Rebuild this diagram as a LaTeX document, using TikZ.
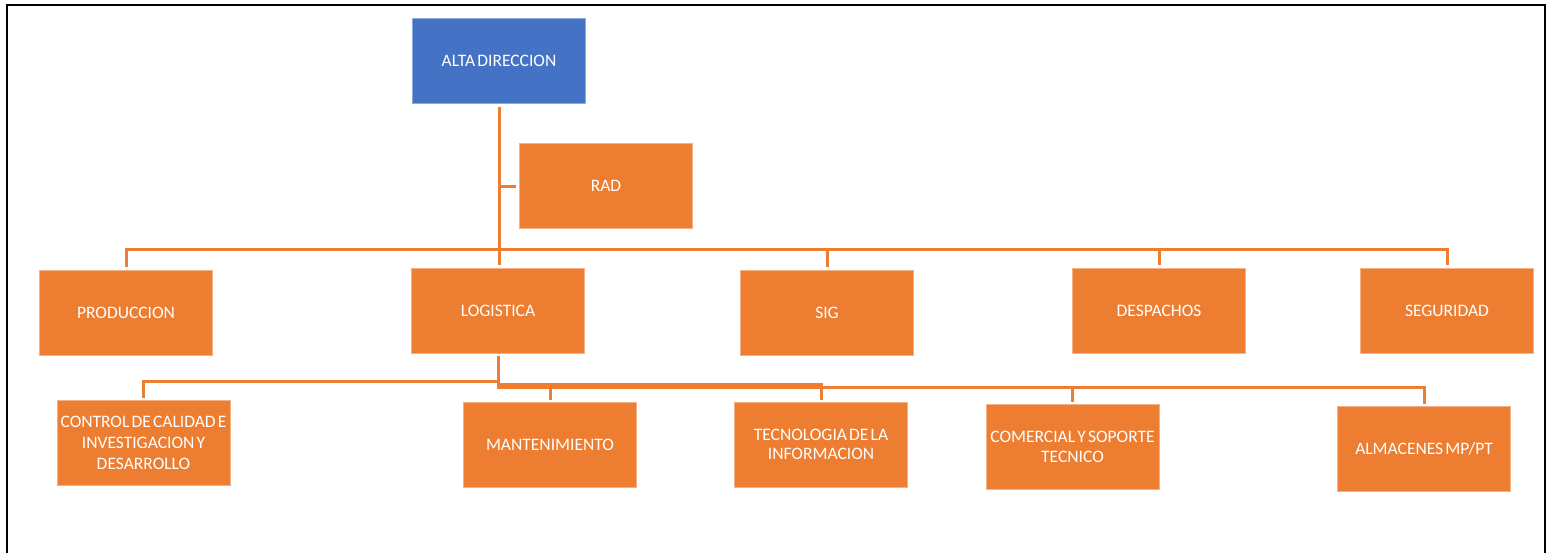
\documentclass[tikz,border=0pt]{standalone}
\usepackage{fontspec}
\setmainfont{Carlito}[WordSpace=0.55]
\definecolor{boxorange}{HTML}{ED7D31}
\definecolor{boxblue}{HTML}{4472C4}
\tikzset{
  unit/.style={fill=boxorange, draw=boxorange!60!white, line width=0.6pt,
    minimum width=173pt, minimum height=85pt, inner sep=1pt,
    text=white, align=center, font=\fontsize{17.5}{21}\selectfont},
  conn/.style={draw=boxorange, line width=3pt},
}
\begin{document}
\begin{tikzpicture}[x=1pt,y=-1pt]

\useasboundingbox (0,0) rectangle (1552,552);
\draw[line width=2.5pt] (7,560) -- (7,5) -- (1545,5) -- (1545,560);

\node[unit, fill=boxblue, draw=boxblue!60!white] (alta) at (499,60.5) {ALTA DIRECCION};
\node[unit] (rad) at (606,186) {RAD};

\node[unit] (prod) at (126,312.5) {PRODUCCION};
\node[unit] (log) at (498,310.5) {LOGISTICA};
\node[unit] (sig) at (827,312.5) {SIG};
\node[unit] (desp) at (1159,310.5) {DESPACHOS};
\node[unit] (seg) at (1447,310.5) {SEGURIDAD};

\node[unit] (ctrl) at (143.5,442.5) {CONTROL DE CALIDAD E\\INVESTIGACION Y\\DESARROLLO};
\node[unit] (mant) at (550,444.5) {MANTENIMIENTO};
\node[unit, font=\fontsize{17.5}{19}\selectfont] (tec) at (821,444.5) {TECNOLOGIA DE LA\\INFORMACION};
\node[unit, font=\fontsize{17.5}{20}\selectfont] (com) at (1072.5,447) {COMERCIAL Y SOPORTE\\TECNICO};
\node[unit] (alm) at (1424,448.5) {ALMACENES MP/PT};

% trunk and first level
\coordinate (bus) at (0,249);
\draw[conn] ([yshift=-4pt]alta.south) -- ([yshift=3pt]alta.south |- log.north);
\draw[conn] (alta.south |- rad.west) -- ([xshift=-3pt]rad.west);
\foreach \n in {prod,sig,desp,seg}
  \draw[conn] (alta.south |- bus) -| ([yshift=3pt]\n.north);

% second level
\foreach \n/\y in {ctrl/381,mant/384,tec/384,com/387,alm/387}
  \draw[conn] ([yshift=-3pt]log.south) -- (log.south |- 0,\y) -| ([yshift=2pt]\n.north);

\end{tikzpicture}
\end{document}
